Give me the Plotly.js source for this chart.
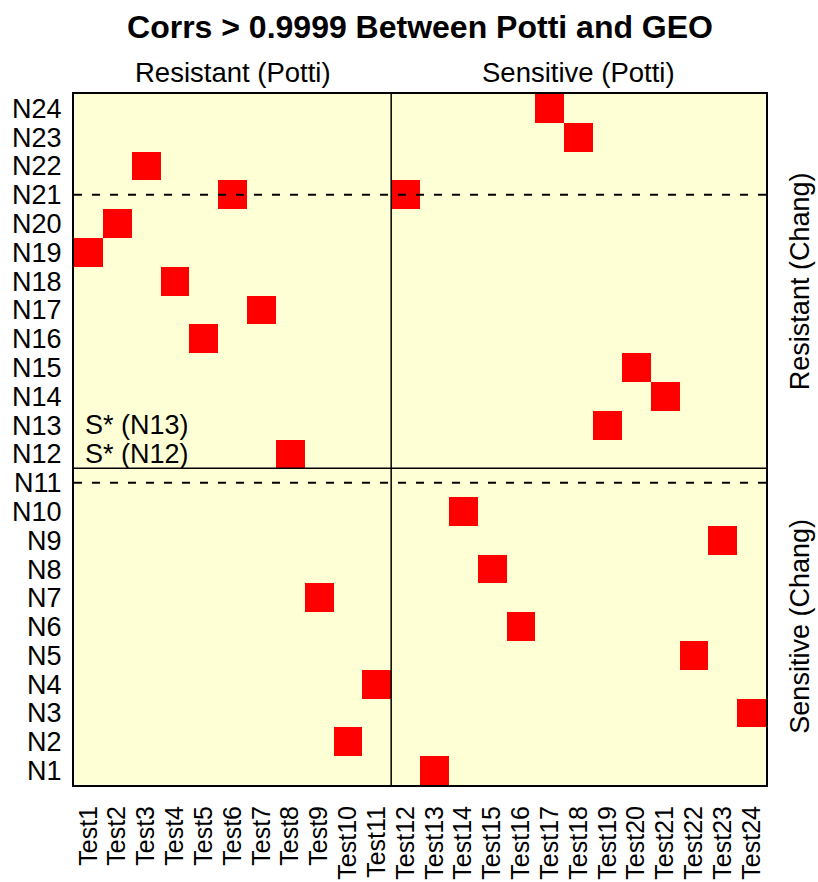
<!DOCTYPE html>
<html>
<head>
<meta charset="utf-8">
<script src="https://cdn.plot.ly/plotly-3.0.1.min.js"></script>
<style>html,body{margin:0;padding:0;background:#fff;}#chart{width:818px;height:882px;}</style>
</head>
<body>
<div id="chart"></div>
<script>
// Test samples (Potti) along x
const tests = ["Test1","Test2","Test3","Test4","Test5","Test6","Test7","Test8","Test9","Test10","Test11","Test12",
               "Test13","Test14","Test15","Test16","Test17","Test18","Test19","Test20","Test21","Test22","Test23","Test24"];
// Chang samples along y
const changSamples = ["N1","N2","N3","N4","N5","N6","N7","N8","N9","N10","N11","N12",
                      "N13","N14","N15","N16","N17","N18","N19","N20","N21","N22","N23","N24"];
// For each test, the Chang sample with corr > 0.9999
const matchedSample = ["N19","N20","N22","N18","N16","N21","N17","N12","N7","N2","N4","N21",
                       "N1","N10","N8","N6","N24","N23","N13","N15","N14","N5","N9","N3"];
const stripTop = ["Resistant (Potti)", "Sensitive (Potti)"];
const stripRight = ["Resistant (Chang)", "Sensitive (Chang)"];
const notes = [{label: "S* (N13)", row: "N13"}, {label: "S* (N12)", row: "N12"}];

const z = changSamples.map(s => tests.map((t, i) => matchedSample[i] === s ? 1 : null));

const FONT = "Liberation Sans, Arial, sans-serif";

const trace = {
  type: "heatmap",
  x: tests,
  y: changSamples,
  z: z,
  colorscale: [[0, "#FF0000"], [1, "#FF0000"]],
  showscale: false,
  hoverongaps: false,
  xgap: 0, ygap: 0
};

const layout = {
  width: 818, height: 882,
  margin: {l: 74, r: 52, t: 94, b: 97},
  paper_bgcolor: "#ffffff",
  plot_bgcolor: "#FFFFD6",
  font: {family: FONT, color: "#000", size: 25},
  title: {
    text: "<b>Corrs > 0.9999 Between Potti and GEO</b>",
    font: {family: FONT, size: 32, color: "#000"},
    x: 0.5, xanchor: "center", y: 1 - 27/882, yanchor: "middle", xref: "paper"
  },
  xaxis: {
    type: "category", categoryorder: "array", categoryarray: tests,
    tickmode: "array", tickvals: tests, ticktext: tests,
    tickangle: -90, showgrid: false, zeroline: false,
    showline: true, mirror: true, linecolor: "#000", linewidth: 2,
    ticks: "", ticklabelstandoff: 9,
    tickfont: {family: FONT, size: 25, color: "#000"},
    range: [-0.5, 23.5], fixedrange: true
  },
  yaxis: {
    type: "category", categoryorder: "array", categoryarray: changSamples,
    tickmode: "array", tickvals: changSamples, ticktext: changSamples,
    showgrid: false, zeroline: false,
    showline: true, mirror: true, linecolor: "#000", linewidth: 2,
    ticks: "", ticklabelstandoff: 5,
    tickfont: {family: FONT, size: 27, color: "#000"},
    range: [-0.5, 23.5], fixedrange: true
  },
  shapes: [
    {type: "line", xref: "x", yref: "paper", x0: 10.5, x1: 10.5, y0: 0, y1: 1, line: {color: "#000", width: 1.5}},
    {type: "line", xref: "paper", yref: "y", x0: 0, x1: 1, y0: 10.5, y1: 10.5, line: {color: "#000", width: 1.5}},
    {type: "line", xref: "paper", yref: "y", x0: 0, x1: 1, y0: 20, y1: 20, line: {color: "#000", width: 2, dash: "8px,10px"}},
    {type: "line", xref: "paper", yref: "y", x0: 0, x1: 1, y0: 10, y1: 10, line: {color: "#000", width: 2, dash: "8px,10px"}}
  ],
  annotations: [
    {text: stripTop[0], xref: "x", yref: "paper", x: 5, y: 1, yanchor: "middle", yshift: 22, showarrow: false, font: {size: 27.5}},
    {text: stripTop[1], xref: "x", yref: "paper", x: 17, y: 1, yanchor: "middle", yshift: 22, showarrow: false, font: {size: 27.5}},
    {text: stripRight[0], xref: "paper", yref: "y", x: 1, y: 17, xanchor: "center", xshift: 34, textangle: -90, showarrow: false, font: {size: 27}},
    {text: stripRight[1], xref: "paper", yref: "y", x: 1, y: 5, xanchor: "center", xshift: 34, textangle: -90, showarrow: false, font: {size: 27}}
  ].concat(notes.map(n => ({
    text: n.label, xref: "x", yref: "y", x: -0.5, y: n.row, xanchor: "left", xshift: 9,
    yanchor: "middle", showarrow: false, font: {size: 27}
  })))
};

Plotly.newPlot("chart", [trace], layout, {displayModeBar: false, staticPlot: true});
</script>
</body>
</html>
